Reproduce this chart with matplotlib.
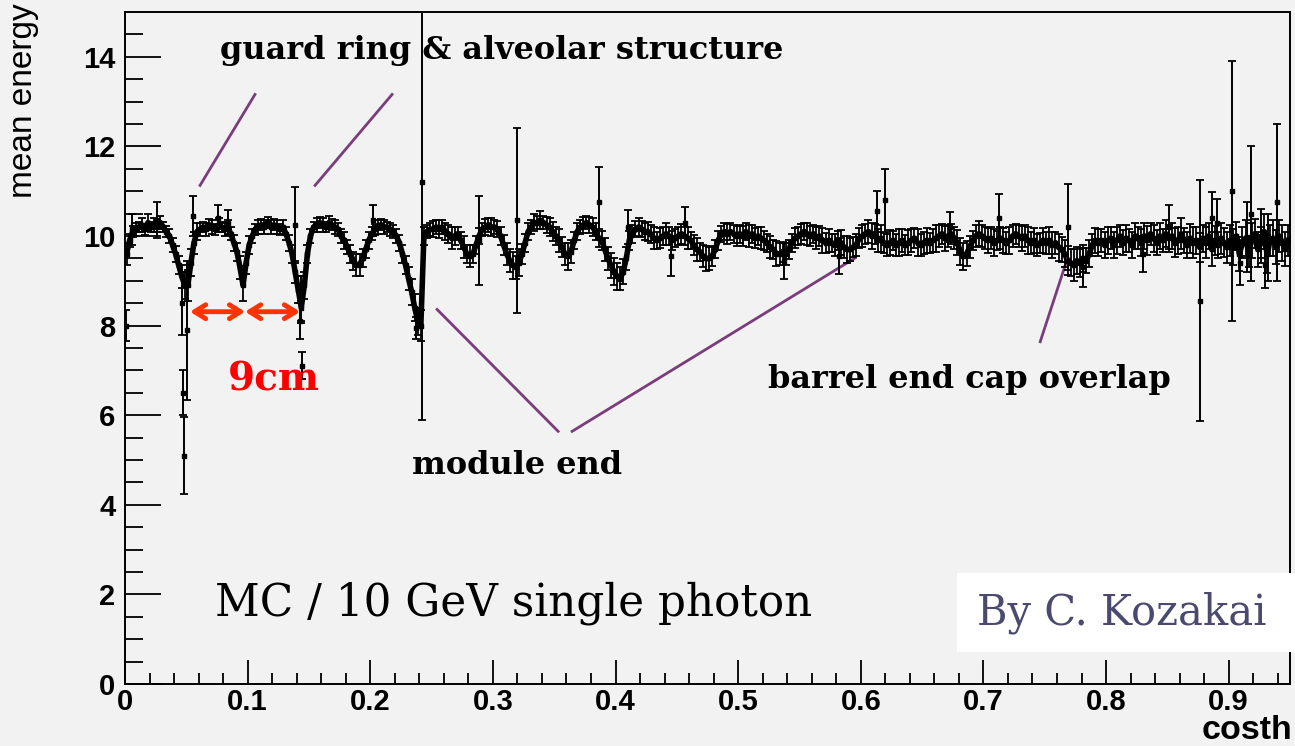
import numpy as np
import matplotlib
matplotlib.use("Agg")
import matplotlib.pyplot as plt

# mean energy per costh bin (bin width 0.0025, 0 .. 0.95)
mean_e = [
    9.6, 9.9, 10.1, 10.15, 10.2, 10.25, 10.15, 10.3, 10.2, 10.25, 10.2, 10.3, 10.2, 10.1, 10.0, 9.8, 9.6, 9.35, 9.1, 8.9,
    8.9, 9.4, 9.85, 10.1, 10.15, 10.2, 10.15, 10.25, 10.2, 10.15, 10.25, 10.2, 10.15, 10.2, 10.05, 9.85, 9.65, 9.3, 8.9, 9.4,
    9.8, 10.0, 10.15, 10.2, 10.25, 10.2, 10.3, 10.2, 10.25, 10.2, 10.15, 10.2, 10.05, 9.85, 9.6, 9.2, 8.8, 8.4, 8.9, 9.6,
    10.0, 10.2, 10.25, 10.3, 10.25, 10.2, 10.3, 10.25, 10.2, 10.15, 10.0, 9.9, 9.75, 9.6, 9.45, 9.35, 9.35, 9.5, 9.7, 9.9,
    10.05, 10.15, 10.2, 10.25, 10.2, 10.2, 10.15, 10.1, 10.0, 9.85, 9.6, 9.35, 9.05, 8.75, 8.4, 8.1, 8.0, 10.0, 10.1, 10.15,
    10.15, 10.2, 10.15, 10.2, 10.1, 10.05, 9.95, 10.0, 10.05, 9.9, 9.75, 9.6, 9.55, 9.6, 9.8, 10.0, 10.15, 10.2, 10.25, 10.2,
    10.2, 10.15, 10.0, 9.8, 9.6, 9.45, 9.35, 9.3, 9.4, 9.6, 9.85, 10.1, 10.2, 10.3, 10.3, 10.35, 10.3, 10.25, 10.2, 10.1,
    10.0, 9.9, 9.75, 9.6, 9.55, 9.65, 9.9, 10.1, 10.2, 10.25, 10.3, 10.25, 10.2, 10.1, 9.95, 9.9, 9.7, 9.5, 9.35, 9.2,
    9.1, 9.05, 9.2, 9.5, 9.9, 10.05, 10.15, 10.2, 10.15, 10.1, 10.1, 10.05, 9.95, 9.9, 9.95, 10.0, 10.05, 10.0, 9.9, 9.95,
    10.0, 10.05, 10.0, 9.95, 9.9, 9.8, 9.7, 9.65, 9.55, 9.5, 9.5, 9.55, 9.7, 9.9, 10.05, 10.1, 10.05, 10.1, 10.05, 10.0,
    10.05, 10.0, 10.1, 10.0, 10.05, 9.95, 10.0, 9.95, 9.9, 9.85, 9.75, 9.7, 9.6, 9.6, 9.65, 9.6, 9.7, 9.85, 9.95, 10.0,
    10.05, 10.1, 10.05, 10.0, 10.05, 9.95, 10.0, 9.9, 9.85, 9.9, 9.85, 9.8, 9.9, 9.85, 9.75, 9.7, 9.7, 9.75, 9.8, 9.95,
    10.0, 10.05, 10.1, 10.0, 10.05, 9.9, 9.95, 9.85, 9.8, 9.85, 9.9, 9.8, 9.85, 9.9, 9.8, 9.85, 9.9, 9.95, 9.85, 9.8,
    9.85, 9.9, 9.85, 9.9, 9.95, 10.0, 10.05, 9.95, 10.0, 10.05, 9.95, 9.85, 9.65, 9.55, 9.6, 9.75, 9.9, 10.0, 10.05, 10.0,
    9.95, 9.9, 9.95, 9.85, 9.9, 9.95, 9.9, 9.85, 9.9, 10.0, 10.05, 10.0, 9.95, 10.0, 9.9, 9.85, 9.9, 9.8, 9.85, 9.9,
    9.85, 9.9, 9.8, 9.85, 9.75, 9.7, 9.6, 9.45, 9.4, 9.35, 9.45, 9.4, 9.5, 9.45, 9.6, 9.8, 9.9, 9.85, 9.9, 9.8,
    9.9, 9.95, 9.8, 9.9, 10.0, 9.85, 9.95, 9.9, 9.8, 10.0, 9.95, 9.85, 10.0, 9.9, 10.05, 9.95, 9.85, 10.0, 9.9, 10.05,
    9.95, 10.0, 9.85, 9.9, 10.05, 9.9, 9.8, 9.95, 9.85, 9.9, 9.75, 9.95, 9.85, 10.0, 9.7, 9.9, 9.8, 9.95, 9.85, 9.75,
    9.9, 9.75, 10.0, 9.6, 9.85, 9.95, 9.65, 9.9, 10.05, 9.7, 9.85, 10.1, 9.6, 9.9, 9.95, 9.75, 10.0, 9.85, 9.7, 9.9,
]

err_e = [
    0.25, 0.15, 0.12, 0.15, 0.12, 0.15, 0.12, 0.18, 0.12, 0.15, 0.12, 0.15, 0.12, 0.12, 0.15, 0.15, 0.18, 0.2, 0.25, 0.3,
    0.35, 0.3, 0.25, 0.18, 0.15, 0.12, 0.15, 0.12, 0.15, 0.12, 0.15, 0.12, 0.15, 0.15, 0.15, 0.18, 0.2, 0.25, 0.35, 0.25,
    0.2, 0.15, 0.12, 0.15, 0.12, 0.15, 0.12, 0.15, 0.12, 0.15, 0.12, 0.15, 0.15, 0.18, 0.2, 0.25, 0.3, 0.35, 0.3, 0.2,
    0.15, 0.12, 0.15, 0.12, 0.15, 0.12, 0.15, 0.12, 0.15, 0.15, 0.15, 0.18, 0.15, 0.2, 0.2, 0.25, 0.25, 0.2, 0.2, 0.18,
    0.15, 0.12, 0.15, 0.12, 0.15, 0.12, 0.15, 0.15, 0.15, 0.18, 0.2, 0.2, 0.25, 0.3, 0.3, 0.3, 0.35, 0.2, 0.15, 0.15,
    0.18, 0.15, 0.2, 0.15, 0.18, 0.2, 0.25, 0.2, 0.15, 0.2, 0.25, 0.2, 0.25, 0.2, 0.2, 0.18, 0.15, 0.18, 0.15, 0.2,
    0.15, 0.18, 0.2, 0.22, 0.25, 0.25, 0.3, 0.25, 0.3, 0.22, 0.2, 0.18, 0.15, 0.18, 0.15, 0.2, 0.15, 0.18, 0.2, 0.22,
    0.2, 0.25, 0.22, 0.25, 0.3, 0.25, 0.2, 0.18, 0.15, 0.18, 0.15, 0.18, 0.2, 0.18, 0.2, 0.22, 0.25, 0.25, 0.28, 0.3,
    0.3, 0.25, 0.28, 0.25, 0.22, 0.2, 0.18, 0.2, 0.18, 0.2, 0.22, 0.2, 0.25, 0.2, 0.22, 0.2, 0.25, 0.2, 0.22, 0.2,
    0.2, 0.22, 0.2, 0.25, 0.2, 0.22, 0.25, 0.2, 0.25, 0.28, 0.25, 0.22, 0.2, 0.22, 0.18, 0.2, 0.22, 0.2, 0.2, 0.22,
    0.2, 0.22, 0.2, 0.25, 0.2, 0.22, 0.2, 0.25, 0.22, 0.2, 0.25, 0.22, 0.28, 0.25, 0.22, 0.25, 0.22, 0.2, 0.22, 0.2,
    0.22, 0.2, 0.25, 0.22, 0.2, 0.25, 0.22, 0.28, 0.22, 0.25, 0.2, 0.25, 0.22, 0.28, 0.25, 0.3, 0.25, 0.22, 0.25, 0.22,
    0.25, 0.22, 0.25, 0.28, 0.22, 0.25, 0.3, 0.22, 0.25, 0.28, 0.22, 0.25, 0.3, 0.25, 0.22, 0.28, 0.25, 0.22, 0.3, 0.25,
    0.25, 0.28, 0.22, 0.25, 0.3, 0.25, 0.22, 0.28, 0.25, 0.22, 0.25, 0.28, 0.3, 0.3, 0.28, 0.25, 0.22, 0.25, 0.28, 0.25,
    0.25, 0.28, 0.25, 0.3, 0.22, 0.25, 0.28, 0.25, 0.3, 0.25, 0.22, 0.25, 0.28, 0.25, 0.3, 0.25, 0.28, 0.25, 0.22, 0.28,
    0.25, 0.3, 0.28, 0.25, 0.3, 0.28, 0.3, 0.32, 0.3, 0.35, 0.3, 0.32, 0.3, 0.28, 0.3, 0.25, 0.28, 0.3, 0.25, 0.28,
    0.3, 0.25, 0.28, 0.3, 0.25, 0.28, 0.3, 0.25, 0.3, 0.28, 0.25, 0.3, 0.28, 0.32, 0.25, 0.3, 0.28, 0.3, 0.25, 0.3,
    0.3, 0.28, 0.32, 0.3, 0.35, 0.28, 0.3, 0.32, 0.35, 0.3, 0.32, 0.3, 0.35, 0.3, 0.38, 0.32, 0.3, 0.35, 0.32, 0.35,
    0.35, 0.4, 0.32, 0.38, 0.35, 0.4, 0.35, 0.38, 0.32, 0.4, 0.35, 0.38, 0.42, 0.35, 0.4, 0.38, 0.35, 0.4, 0.38, 0.35,
]

# isolated bins with large errors (spikes and the deep gaps)
spike_x = [0.001, 0.006, 0.026, 0.0465, 0.0475, 0.048, 0.0505, 0.0555, 0.076, 0.084,
           0.139, 0.1425, 0.1435, 0.1445, 0.202, 0.2375, 0.2425, 0.289, 0.32, 0.3866,
           0.4105, 0.445, 0.457, 0.537, 0.582, 0.613, 0.62, 0.673, 0.713, 0.769,
           0.781, 0.83, 0.851, 0.877, 0.8865, 0.8905, 0.9025, 0.9095, 0.915, 0.9185,
           0.926, 0.9295, 0.932, 0.9395]
spike_y = [8.0, 10.15, 10.35, 8.5, 6.5, 5.1, 7.9, 10.45, 10.4, 10.3,
           10.25, 8.1, 8.6, 7.1, 10.35, 7.95, 11.2, 9.9, 10.35, 10.75,
           10.2, 9.55, 10.3, 9.45, 9.55, 10.55, 10.8, 10.2, 10.4, 10.2,
           9.3, 9.6, 10.2, 8.55, 10.4, 10.3, 11.0, 9.4, 9.98, 10.5,
           10.0, 9.35, 9.75, 10.75]
spike_err = [0.35, 0.35, 0.4, 0.7, 0.5, 0.85, 1.55, 0.45, 0.3, 0.27,
             0.85, 0.4, 0.5, 0.3, 0.35, 0.25, 5.3, 1.0, 2.07, 0.8,
             0.37, 0.45, 0.35, 0.4, 0.4, 0.45, 0.7, 0.33, 0.53, 0.95,
             0.43, 0.4, 0.5, 2.69, 0.58, 0.53, 2.9, 0.5, 0.78, 1.5,
             0.6, 0.5, 0.75, 1.75]

bin_edges = np.linspace(0, 0.95, len(mean_e) + 1)
costh = 0.5 * (bin_edges[:-1] + bin_edges[1:])

bg = "#f2f2f2"
purple = "#7a3d7c"
red = "#ff3300"

fig = plt.figure(figsize=(12.95, 7.46), dpi=100, facecolor=bg)
ax = fig.add_axes([125 / 1295, 62 / 746, 1165 / 1295, 672 / 746])
ax.set_facecolor(bg)

ax.plot(costh, mean_e, color="black", lw=4, zorder=2)
ax.errorbar(costh, mean_e, yerr=err_e, fmt="s", ms=3, color="black",
            ecolor="black", elinewidth=1.3, capsize=3, capthick=1.3, zorder=3)
ax.errorbar(spike_x, spike_y, yerr=spike_err, fmt="s", ms=3, color="black",
            ecolor="black", elinewidth=1.4, capsize=3, capthick=1.3, zorder=3)

ax.set_xlim(0, 0.95)
ax.set_ylim(0, 15)
ax.set_xticks(np.arange(0, 0.91, 0.1))
ax.set_xticklabels(["0", "0.1", "0.2", "0.3", "0.4", "0.5", "0.6", "0.7", "0.8", "0.9"])
ax.set_xticks(np.arange(0, 0.95, 0.02), minor=True)
ax.set_yticks(np.arange(0, 15, 2))
ax.set_yticks(np.arange(0, 15, 0.5), minor=True)
ax.tick_params(axis="y", which="major", direction="in", length=26, width=1.3, pad=7)
ax.tick_params(axis="y", which="minor", direction="in", length=13, width=1.3)
ax.tick_params(axis="x", which="major", direction="in", length=17, width=1.3, pad=3)
ax.tick_params(axis="x", which="minor", direction="in", length=8, width=1.3)
for lab in ax.get_xticklabels() + ax.get_yticklabels():
    lab.set_fontfamily("Liberation Sans")
    lab.set_fontweight("bold")
    lab.set_fontsize(21)
for s in ax.spines.values():
    s.set_linewidth(1.4)

fig.text(24 / 1295, 1 - 3 / 746, "mean energy", rotation=90, ha="center", va="top",
         family="Liberation Sans", fontsize=24)
fig.text(1292 / 1295, 0 / 746, "costh", ha="right", va="bottom",
         family="Liberation Sans", fontweight="bold", fontsize=24.5)

# annotations
ann = dict(family="DejaVu Serif", fontweight="bold", fontsize=23, color="black")
ax.text(0.0775, 14.15, "guard ring & alveolar structure", va="center", **ann)
ax.text(0.234, 4.87, "module end", va="center", **ann)
ax.text(0.5245, 6.8, "barrel end cap overlap", va="center", **ann)
ax.text(0.084, 6.8, "9cm", va="center", family="DejaVu Serif", fontweight="bold",
        fontsize=28, color="#ff0000")

lines = [((0.0612, 11.13), (0.106, 13.16)),
         ((0.155, 11.13), (0.2178, 13.16)),
         ((0.2545, 8.36), (0.3532, 5.64)),
         ((0.3646, 5.64), (0.5954, 9.51)),
         ((0.7463, 7.64), (0.7684, 9.49))]
for (x0, y0), (x1, y1) in lines:
    ax.plot([x0, x1], [y0, y1], color=purple, lw=2)

for xa, xb in [(0.053, 0.0979), (0.0979, 0.1427)]:
    ax.annotate("", xy=(xb, 8.31), xytext=(xa, 8.31),
                arrowprops=dict(arrowstyle="<->,head_length=0.8,head_width=0.5",
                                color=red, lw=3.5, shrinkA=0, shrinkB=0))

ax.text(0.0734, 1.8, "MC / 10 GeV single photon", va="center",
        family="DejaVu Serif", fontsize=31.5, color="black")

fig.patches.append(plt.Rectangle((957 / 1295, 94 / 746), 338 / 1295, 79 / 746,
                                 transform=fig.transFigure, facecolor="white",
                                 edgecolor="none", zorder=5))
fig.text(1122 / 1295, 133 / 746, "By C. Kozakai", ha="center", va="center",
         family="DejaVu Serif", fontsize=30, color="#4a4a70", zorder=6)

fig.savefig("out.png", dpi=100, facecolor=bg)
